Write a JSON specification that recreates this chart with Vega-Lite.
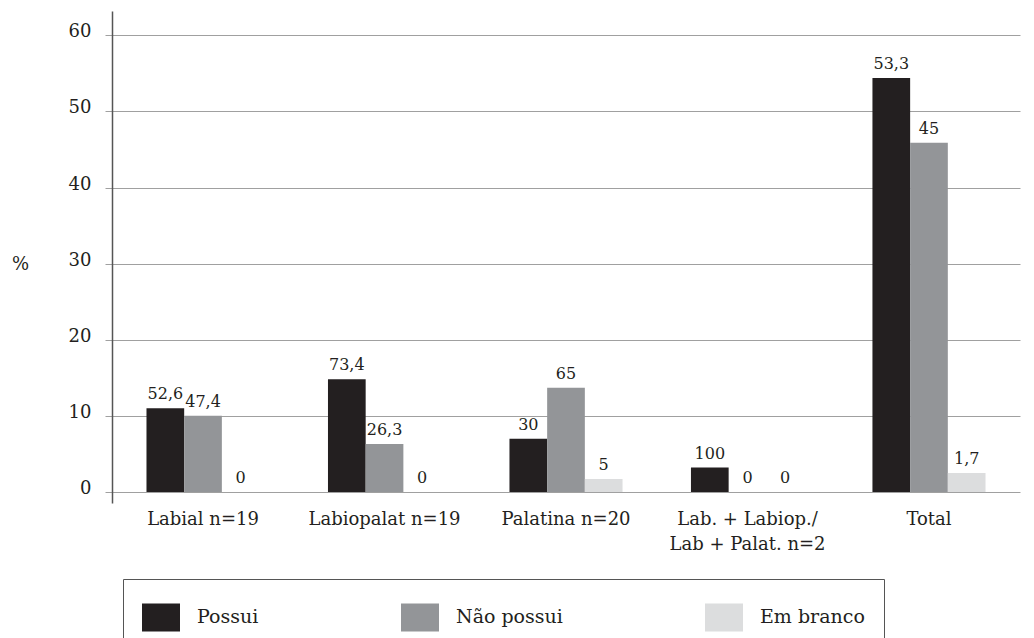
{
  "$schema": "https://vega.github.io/schema/vega-lite/v6.json",
  "width": 908,
  "height": 492,
  "autosize": {"type": "none"},
  "padding": {"left": 112, "top": 11, "right": 14, "bottom": 135},
  "background": "white",
  "config": {"view": {"stroke": null}, "font": "DejaVu Serif"},
  "data": {
    "values": [
      {"grupo": "Labial n=19", "resposta": "Possui", "altura": 11.0, "rotulo": "52,6"},
      {"grupo": "Labial n=19", "resposta": "Não possui", "altura": 10.0, "rotulo": "47,4"},
      {"grupo": "Labial n=19", "resposta": "Em branco", "altura": 0, "rotulo": "0"},
      {"grupo": "Labiopalat n=19", "resposta": "Possui", "altura": 14.8, "rotulo": "73,4"},
      {"grupo": "Labiopalat n=19", "resposta": "Não possui", "altura": 6.3, "rotulo": "26,3"},
      {"grupo": "Labiopalat n=19", "resposta": "Em branco", "altura": 0, "rotulo": "0"},
      {"grupo": "Palatina n=20", "resposta": "Possui", "altura": 7.0, "rotulo": "30"},
      {"grupo": "Palatina n=20", "resposta": "Não possui", "altura": 13.7, "rotulo": "65"},
      {"grupo": "Palatina n=20", "resposta": "Em branco", "altura": 1.7, "rotulo": "5"},
      {"grupo": "Lab. + Labiop./|Lab + Palat. n=2", "resposta": "Possui", "altura": 3.2, "rotulo": "100"},
      {"grupo": "Lab. + Labiop./|Lab + Palat. n=2", "resposta": "Não possui", "altura": 0, "rotulo": "0"},
      {"grupo": "Lab. + Labiop./|Lab + Palat. n=2", "resposta": "Em branco", "altura": 0, "rotulo": "0"},
      {"grupo": "Total", "resposta": "Possui", "altura": 54.4, "rotulo": "53,3"},
      {"grupo": "Total", "resposta": "Não possui", "altura": 45.9, "rotulo": "45"},
      {"grupo": "Total", "resposta": "Em branco", "altura": 2.5, "rotulo": "1,7"}
    ]
  },
  "encoding": {
    "x": {
      "field": "grupo",
      "type": "nominal",
      "sort": ["Labial n=19", "Labiopalat n=19", "Palatina n=20", "Lab. + Labiop./|Lab + Palat. n=2", "Total"],
      "scale": {"paddingInner": 0.377, "paddingOuter": 0.19},
      "axis": {
        "title": null,
        "domain": false,
        "ticks": false,
        "grid": false,
        "labelAngle": 0,
        "labelFont": "DejaVu Serif",
        "labelFontSize": 18,
        "labelPadding": 7,
        "labelColor": "#231f20",
        "labelBaseline": "top",
        "labelLineHeight": 25,
        "labelExpr": "split(datum.label, '|')"
      }
    },
    "xOffset": {
      "field": "resposta",
      "type": "nominal",
      "sort": ["Possui", "Não possui", "Em branco"],
      "scale": {"paddingInner": 0, "paddingOuter": 0}
    }
  },
  "layer": [
    {
      "mark": {"type": "bar", "strokeWidth": 0},
      "encoding": {
        "y": {
          "field": "altura",
          "type": "quantitative",
          "scale": {"domain": [-1.45, 63.2], "nice": false, "zero": false},
          "axis": {
            "values": [0, 10, 20, 30, 40, 50, 60],
            "title": "%",
            "titleFont": "DejaVu Serif",
            "titleAngle": 0,
            "titleX": -92,
            "titleY": 253,
            "titleFontSize": 18,
            "titleFontWeight": "normal",
            "titleAlign": "center",
            "titleBaseline": "middle",
            "titleColor": "#231f20",
            "labelFont": "DejaVu Serif",
            "labelFontSize": 18,
            "labelPadding": 14,
            "labelColor": "#231f20",
            "labelBaseline": "alphabetic",
            "labelOffset": 1.5,
            "tickSize": 7,
            "tickColor": "#a0a0a0",
            "gridColor": "#a0a0a0",
            "domainColor": "#555555",
            "domainWidth": 1.5
          }
        },
        "y2": {"datum": 0},
        "color": {
          "field": "resposta",
          "type": "nominal",
          "scale": {"domain": ["Possui", "Não possui", "Em branco"], "range": ["#231f20", "#939598", "#dcddde"]},
          "legend": {
            "orient": "none",
            "legendX": 11,
            "legendY": 568,
            "direction": "horizontal",
            "columns": 3,
            "title": null,
            "strokeColor": "#555555",
            "fillColor": "white",
            "padding": 19,
            "symbolType": "M-1,-0.737L1,-0.737L1,0.737L-1,0.737Z",
            "symbolSize": 1444,
            "symbolStrokeWidth": 0,
            "symbolOpacity": 1,
            "labelFont": "DejaVu Serif",
            "labelFontSize": 19,
            "labelOffset": 17,
            "columnPadding": 142,
            "labelColor": "#231f20"
          }
        }
      }
    },
    {
      "mark": {"type": "text", "baseline": "alphabetic", "dy": -9, "fontSize": 16, "font": "DejaVu Serif", "color": "#231f20"},
      "encoding": {
        "y": {"field": "altura", "type": "quantitative"},
        "text": {"field": "rotulo"}
      }
    }
  ]
}
